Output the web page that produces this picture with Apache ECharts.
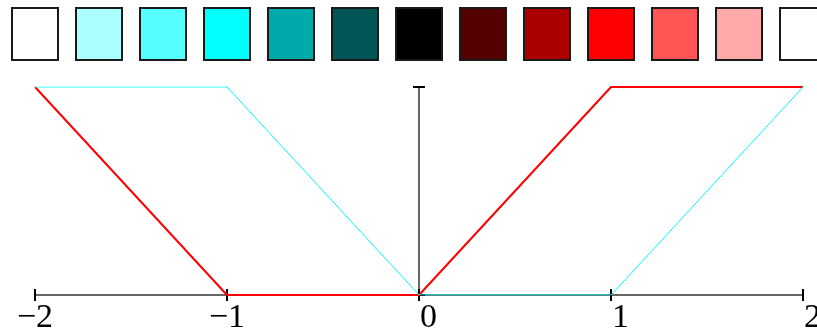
<!DOCTYPE html>
<html>
<head>
<meta charset="utf-8">
<script src="https://cdn.jsdelivr.net/npm/echarts@6/dist/echarts.min.js"></script>
<style>
  html, body { margin: 0; padding: 0; background: #fff; }
  #chart { width: 817px; height: 330px; }
</style>
</head>
<body>
<div id="chart"></div>
<script>
  // colour strip across the top
  const swatchColors = ['#ffffff', '#aaffff', '#55ffff', '#00ffff', '#00aaaa', '#005555', '#000000',
    '#550000', '#aa0000', '#ff0000', '#ff5555', '#ffaaaa', '#ffffff'];
  const swatchIndex = swatchColors.map((c, i) => i);

  // the two piecewise lines
  const xValues = [-2, -1, 0, 1, 2];
  const redY = [1, 0, 0, 1, 1];
  const cyanY = [1, 1, 0, 0, 1];

  // non-negative labels keep a hidden minus so they sit like the reference
  const fmt = v => (v < 0 ? '{n|\u2212' + (-v) + '}' : '{h|\u2212}{n|' + v + '}');
  const richText = {
    n: { fontFamily: 'Liberation Serif', fontSize: 34, color: '#000' },
    h: { fontFamily: 'Liberation Serif', fontSize: 34, color: 'rgba(0,0,0,0)' }
  };

  const chart = echarts.init(document.getElementById('chart'));
  chart.setOption({
    animation: false,
    grid: [
      { left: 35, right: 14, top: 87, bottom: 35, outerBoundsMode: 'none' },
      { left: 0, right: 0, top: 7, height: 54, outerBoundsMode: 'none' }
    ],
    xAxis: [
      {
        gridIndex: 0, type: 'value', min: -2, max: 2, interval: 1,
        axisLine: { lineStyle: { color: '#666', width: 2 } },
        axisTick: { show: true, length: 6, lineStyle: { color: '#000', width: 2 } },
        axisLabel: { formatter: fmt, margin: 6, rich: richText },
        splitLine: { show: false }
      },
      {
        gridIndex: 0, type: 'value', min: -2, max: 2, interval: 1, position: 'bottom',
        axisLine: { show: false },
        axisTick: { show: true, inside: true, length: 6, lineStyle: { color: '#000', width: 2 } },
        axisLabel: { show: false },
        splitLine: { show: false }
      },
      {
        // swatch i centred at 35 + 64 i px across the full width
        gridIndex: 1, type: 'value', min: -35 / 64, max: 782 / 64,
        show: false
      }
    ],
    yAxis: [
      {
        gridIndex: 0, type: 'value', min: 0, max: 1, interval: 1,
        axisLine: { show: true, onZero: true, lineStyle: { color: '#666', width: 2 } },
        axisTick: { show: true, length: 6, lineStyle: { color: '#000', width: 2 } },
        axisLabel: { show: false },
        splitLine: { show: false }
      },
      {
        gridIndex: 0, type: 'value', min: 0, max: 1, interval: 1, position: 'left',
        axisLine: { show: true, onZero: true, lineStyle: { color: 'rgba(0,0,0,0)' } },
        axisTick: { show: true, inside: true, length: 6, lineStyle: { color: '#000', width: 2 } },
        axisLabel: { show: false },
        splitLine: { show: false }
      },
      { gridIndex: 1, type: 'value', min: 0, max: 1, show: false }
    ],
    series: [
      {
        type: 'bar', xAxisIndex: 2, yAxisIndex: 2, barWidth: 48,
        data: swatchIndex.map(i => ({
          value: [i, 1],
          itemStyle: { color: swatchColors[i], borderColor: '#1a1a1a', borderWidth: 2 }
        }))
      },
      {
        type: 'line', xAxisIndex: 0, yAxisIndex: 0, symbol: 'none',
        data: xValues.map((x, i) => [x, redY[i]]),
        lineStyle: { color: '#ff0000', width: 2 }
      },
      {
        type: 'line', xAxisIndex: 0, yAxisIndex: 0, symbol: 'none',
        data: xValues.map((x, i) => [x, cyanY[i]]),
        lineStyle: { color: '#00ffff', width: 1 }
      }
    ]
  });
</script>
</body>
</html>
